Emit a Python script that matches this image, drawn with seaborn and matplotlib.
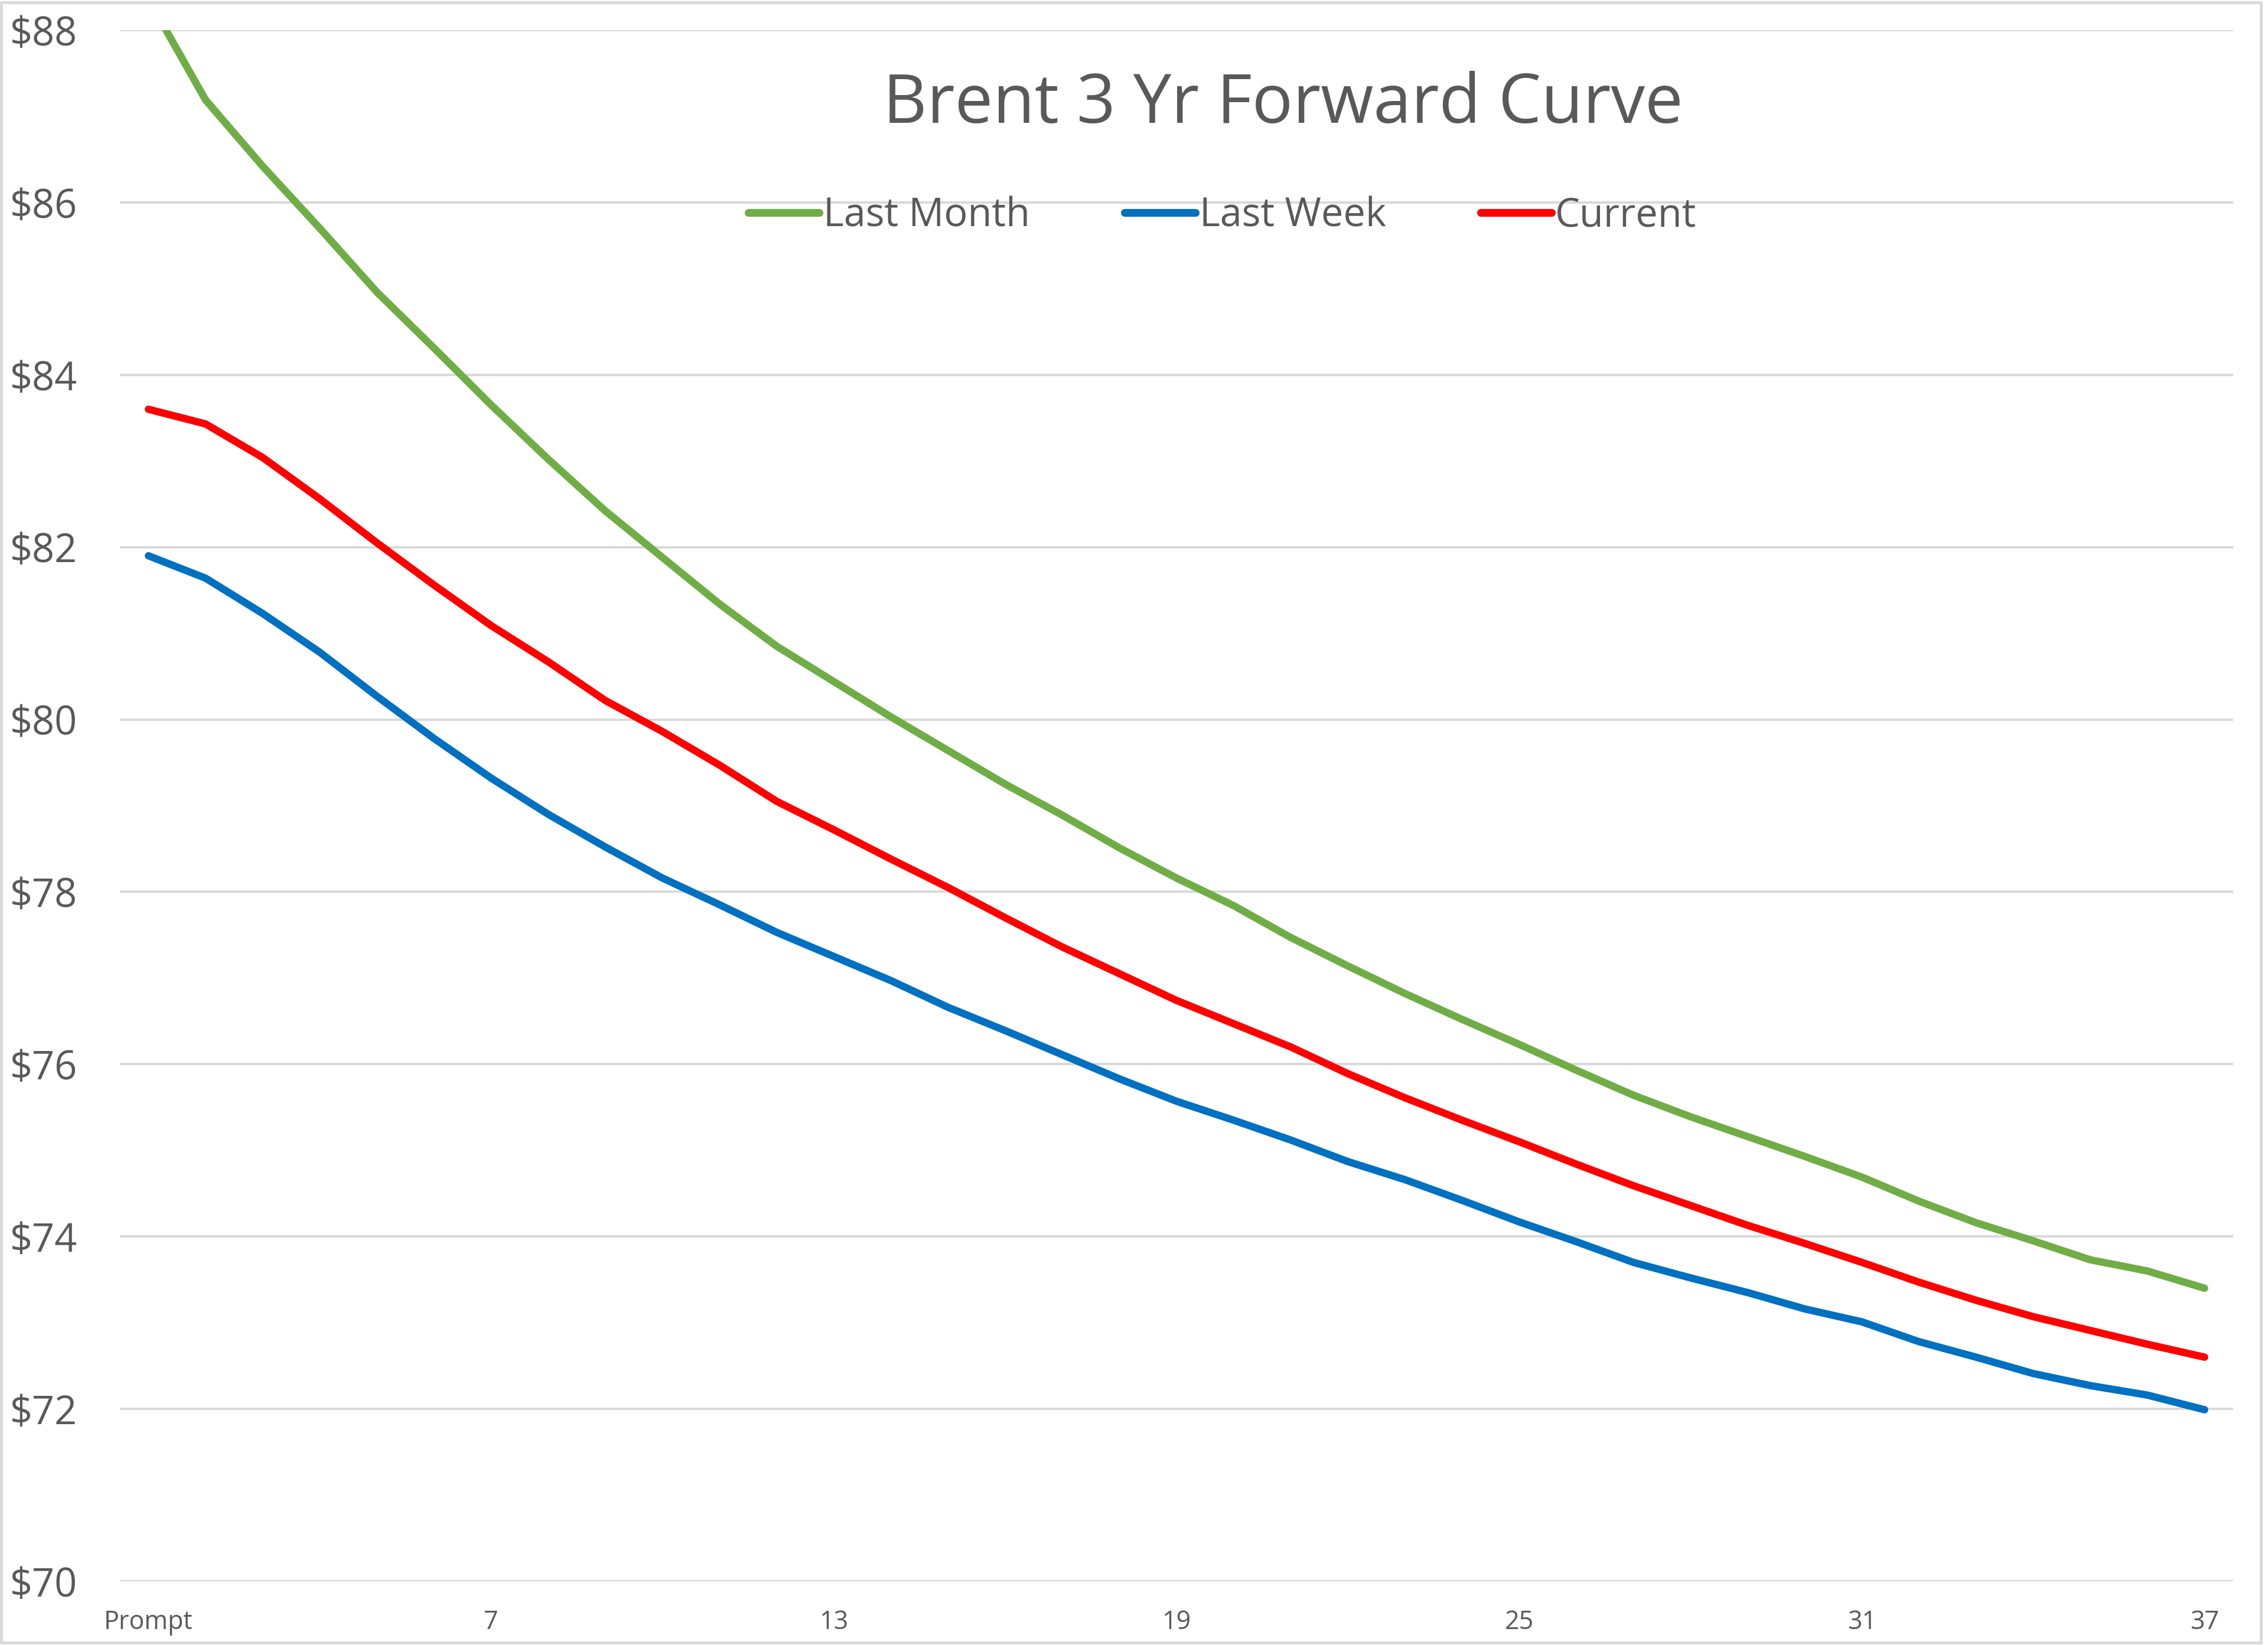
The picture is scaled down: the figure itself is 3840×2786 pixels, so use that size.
import matplotlib
matplotlib.use("Agg")
import matplotlib.pyplot as plt
import seaborn as sns
import pandas as pd
from matplotlib.patches import Rectangle
from matplotlib.lines import Line2D

months = list(range(1, 38))
last_month = [88.36, 87.19, 86.42, 85.70, 84.96, 84.31, 83.65, 83.02, 82.42, 81.88,
              81.34, 80.85, 80.44, 80.03, 79.64, 79.25, 78.89, 78.51, 78.16, 77.84,
              77.47, 77.14, 76.82, 76.52, 76.23, 75.93, 75.64, 75.39, 75.16, 74.93,
              74.69, 74.41, 74.16, 73.95, 73.73, 73.60, 73.40]
last_week = [81.90, 81.64, 81.23, 80.78, 80.27, 79.78, 79.32, 78.90, 78.52, 78.16,
             77.85, 77.53, 77.25, 76.97, 76.66, 76.39, 76.11, 75.83, 75.57, 75.35,
             75.12, 74.87, 74.66, 74.42, 74.17, 73.94, 73.70, 73.52, 73.35, 73.16,
             73.01, 72.78, 72.60, 72.41, 72.27, 72.16, 71.99]
current = [83.60, 83.43, 83.04, 82.56, 82.05, 81.56, 81.09, 80.67, 80.22, 79.86,
           79.47, 79.05, 78.72, 78.38, 78.05, 77.70, 77.36, 77.05, 76.74, 76.47,
           76.20, 75.89, 75.61, 75.35, 75.10, 74.84, 74.59, 74.36, 74.13, 73.92,
           73.70, 73.47, 73.26, 73.07, 72.91, 72.75, 72.60]
series_names = ["Last Month", "Last Week", "Current"]
series_colors = ["#70AD47", "#0070C0", "#FF0000"]
x_tick_pos = [1, 7, 13, 19, 25, 31, 37]
x_tick_labels = ["Prompt", "7", "13", "19", "25", "31", "37"]
y_ticks = [70, 72, 74, 76, 78, 80, 82, 84, 86, 88]
title = "Brent 3 Yr Forward Curve"

df = pd.concat([
    pd.DataFrame({"month": months, "price": vals, "series": name})
    for name, vals in zip(series_names, [last_month, last_week, current])
], ignore_index=True)

sns.set_style("white")
plt.rcParams["font.family"] = ["Open Sans", "DejaVu Sans"]

W, H = 3840, 2786
fig = plt.figure(figsize=(W / 100, H / 100), dpi=100)
ax = fig.add_axes([203 / W, 1 - 2678 / H, (3781 - 203) / W, (2678 - 51) / H])

palette = dict(zip(series_names, series_colors))
sns.lineplot(data=df, x="month", y="price", hue="series", palette=palette,
             hue_order=series_names, linewidth=9.0, ax=ax, legend=False,
             solid_capstyle="round", zorder=3)

ax.set_xlim(0.5, 37.5)
ax.set_ylim(70, 88)
ax.set_xticks(x_tick_pos)
ax.set_xticklabels(x_tick_labels)
ax.set_yticks(y_ticks)
ax.set_yticklabels([f"${v}" for v in y_ticks])
ax.set_xlabel("")
ax.set_ylabel("")
ax.tick_params(axis="y", length=0, pad=52, labelsize=48, labelcolor="#595959")
ax.tick_params(axis="x", length=0, pad=34, labelsize=31, labelcolor="#595959")
ax.yaxis.grid(True, color="#d9d9d9", linewidth=2.9, zorder=0)
ax.xaxis.grid(False)
for s in ax.spines.values():
    s.set_visible(False)
ax.set_axisbelow(True)

fig.text(2172 / W, 1 - 208 / H, title, ha="center", va="baseline",
         fontsize=83, color="#595959")

handles = [Line2D([0], [0], color=c, lw=9.5, solid_capstyle="round") for c in series_colors]
fig.legend(handles, series_names, loc="center", bbox_to_anchor=(2070 / W, 1 - 366 / H),
           ncol=3, frameon=False, fontsize=48, labelcolor="#595959",
           handlelength=1.8, handletextpad=0.1, columnspacing=2.4,
           borderaxespad=0, borderpad=0)

fig.patches.append(Rectangle((2 / W, 4 / H), (W - 14) / W, (H - 8) / H,
                             transform=fig.transFigure, fill=False,
                             edgecolor="#d9d9d9", linewidth=3.5))

fig.savefig("out.png", dpi=100, facecolor="white")
